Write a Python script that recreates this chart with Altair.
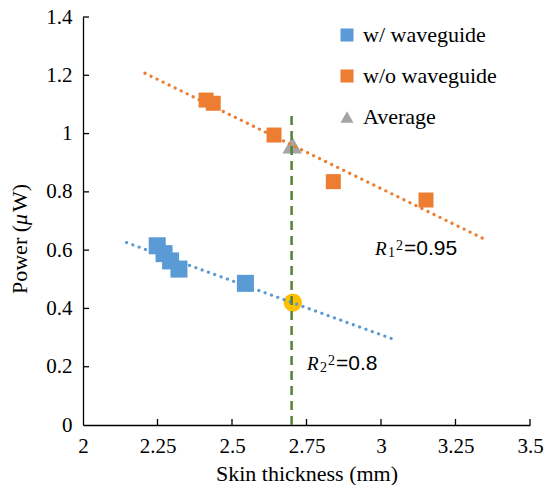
import altair as alt
import pandas as pd

# ---------------- data ----------------
series_names = ["w/ waveguide", "w/o waveguide", "Average"]
series_colors = ["#5B9BD5", "#ED7D31", "#A5A5A5"]
series_shapes = ["square", "square", "triangle-up"]

blue_x = [2.249, 2.272, 2.294, 2.322, 2.545]
blue_y = [0.615, 0.588, 0.563, 0.535, 0.486]

orange_x = [2.413, 2.437, 2.641, 2.840, 3.151]
orange_y = [1.115, 1.104, 0.995, 0.835, 0.772]

avg_x = [2.702]
avg_y = [0.961]

circle_x = [2.704]
circle_y = [0.420]

trend_orange_x = [2.208, 3.341]
trend_orange_y = [1.207, 0.641]
trend_blue_x = [2.146, 3.034]
trend_blue_y = [0.626, 0.297]

vline_x = [2.70]
vline_y0 = [0.0]
vline_y1 = [1.07]

x_ticks = [2, 2.25, 2.5, 2.75, 3, 3.25, 3.5]
y_ticks = [0, 0.2, 0.4, 0.6, 0.8, 1.0, 1.2, 1.4]

y_title_parts = ["Power (", "μ", "W)"]
r1_parts = ["R", "1", "2", "=0.95"]
r2_parts = ["R", "2", "2", "=0.8"]
r1_pos = (2.98, 0.583)
r2_pos = (2.752, 0.189)

# ---------------- layout ----------------
W, H = 447, 408
SERIF = "Liberation Serif"
SANS = "Liberation Sans"

x_scale = alt.Scale(domain=[2, 3.5], nice=False, zero=False)
y_scale = alt.Scale(domain=[0, 1.4], nice=False, zero=True)

LBL = "format(datum.value, '~g')"

x_axis = alt.Axis(values=x_ticks, labelExpr=LBL, title="Skin thickness (mm)",
                  grid=False, ticks=False, tickSize=0, domainColor="black",
                  domainWidth=1.3, labelFont=SERIF, labelFontSize=21,
                  labelColor="black", labelPadding=10, labelFlush=False,
                  titleFont=SERIF, titleFontSize=22, titleFontWeight="normal",
                  titleColor="black", titleBaseline="alphabetic", titleY=55)
y_axis = alt.Axis(values=y_ticks, labelExpr=LBL, title=None,
                  grid=False, ticks=False, tickSize=0, domainColor="black",
                  domainWidth=1.3, labelFont=SERIF, labelFontSize=21,
                  labelColor="black", labelPadding=11, labelFlush=False)


def X(field="x"):
    return alt.X(f"{field}:Q", scale=x_scale, axis=x_axis)


def Y(field="y"):
    return alt.Y(f"{field}:Q", scale=y_scale, axis=y_axis)


def legend():
    return alt.Legend(title=None, orient="none", legendX=253, legendY=7,
                      padding=0, labelFont=SERIF, labelFontSize=22,
                      labelColor="black", symbolSize=170, rowPadding=19,
                      labelOffset=5, symbolStrokeWidth=0, symbolOpacity=1)


color_enc = alt.Color("series:N",
                      scale=alt.Scale(domain=series_names, range=series_colors),
                      legend=legend())
shape_enc = alt.Shape("series:N",
                      scale=alt.Scale(domain=series_names, range=series_shapes),
                      legend=legend())

df_blue = pd.DataFrame({"x": blue_x, "y": blue_y, "series": series_names[0]})
df_orange = pd.DataFrame({"x": orange_x, "y": orange_y, "series": series_names[1]})
df_avg = pd.DataFrame({"x": avg_x, "y": avg_y, "series": series_names[2]})
df_circle = pd.DataFrame({"x": circle_x, "y": circle_y})
df_to = pd.DataFrame({"x": trend_orange_x, "y": trend_orange_y})
df_tb = pd.DataFrame({"x": trend_blue_x, "y": trend_blue_y})
df_vl = pd.DataFrame({"x": vline_x, "y": vline_y0, "y2": vline_y1})
df_xt = pd.DataFrame({"x": x_ticks[1:]})
df_yt = pd.DataFrame({"y": y_ticks[1:]})

avg_layer = alt.Chart(df_avg).mark_point(filled=True, opacity=1, size=380).encode(
    x=X(), y=Y(), color=color_enc, shape=shape_enc)
circle_layer = alt.Chart(df_circle).mark_point(
    filled=True, opacity=1, size=336, shape="circle", color="#FFC000").encode(x=X(), y=Y())

trend_o = alt.Chart(df_to).mark_line(
    color="#ED7D31", strokeWidth=3.2, strokeDash=[0.1, 6.6], strokeCap="round").encode(x=X(), y=Y())
trend_b = alt.Chart(df_tb).mark_line(
    color="#5B9BD5", strokeWidth=3.2, strokeDash=[0.1, 6.6], strokeCap="round").encode(x=X(), y=Y())

blue_layer = alt.Chart(df_blue).mark_point(filled=True, opacity=1, size=290).encode(
    x=X(), y=Y(), color=color_enc, shape=shape_enc)
orange_layer = alt.Chart(df_orange).mark_point(filled=True, opacity=1, size=225).encode(
    x=X(), y=Y(), color=color_enc, shape=shape_enc)

vline = alt.Chart(df_vl).mark_rule(color="#548235", strokeWidth=2.5, strokeDash=[9, 6]).encode(
    x=X(), y=Y(), y2="y2:Q")

xticks_layer = alt.Chart(df_xt).mark_rule(color="black", strokeWidth=1.3).encode(
    x=X(), y=alt.value(H), y2=alt.value(H - 6))
yticks_layer = alt.Chart(df_yt).mark_rule(color="black", strokeWidth=1.3).encode(
    y=Y(), x=alt.value(0), x2=alt.value(6))

# Y-axis title with italic mu, drawn rotated (reads bottom to top)
one = pd.DataFrame({"k": [0]})
TX = -63          # x of title centre line (relative to plot area)
TY0 = 277         # bottom end of title text (relative to plot area)
yt1 = alt.Chart(one).mark_text(text=y_title_parts[0], font=SERIF, fontSize=22, angle=270,
                               align="left", baseline="middle", color="black").encode(
    x=alt.value(TX), y=alt.value(TY0))
yt2 = alt.Chart(one).mark_text(text=y_title_parts[1], font=SERIF, fontStyle="italic", fontSize=22,
                               angle=270, align="left", baseline="middle", color="black").encode(
    x=alt.value(TX), y=alt.value(TY0 - 69))
yt3 = alt.Chart(one).mark_text(text=y_title_parts[2], font=SERIF, fontSize=22, angle=270,
                               align="left", baseline="middle", color="black").encode(
    x=alt.value(TX), y=alt.value(TY0 - 69 - 13))


def r_label(parts, pos):
    df = pd.DataFrame({"x": [pos[0]], "y": [pos[1]]})
    b = alt.Chart(df)
    r = b.mark_text(text=parts[0], font=SERIF, fontStyle="italic", fontSize=19,
                    align="left", baseline="alphabetic", color="black").encode(x=X(), y=Y())
    sub = b.mark_text(text=parts[1], font=SERIF, fontSize=14, dx=13, dy=2,
                      align="left", baseline="alphabetic", color="black").encode(x=X(), y=Y())
    sup = b.mark_text(text=parts[2], font=SERIF, fontSize=14, dx=21, dy=-5,
                      align="left", baseline="alphabetic", color="black").encode(x=X(), y=Y())
    rest = b.mark_text(text=parts[3], font=SANS, fontSize=21, dx=29,
                       align="left", baseline="alphabetic", color="black").encode(x=X(), y=Y())
    return [r, sub, sup, rest]


layers = [avg_layer, circle_layer, trend_o, trend_b, blue_layer, orange_layer, vline,
          xticks_layer, yticks_layer, yt1, yt2, yt3] + r_label(r1_parts, r1_pos) + r_label(r2_parts, r2_pos)

chart = alt.layer(*layers).properties(
    width=W, height=H,
    padding={"left": 83, "top": 17, "right": 14, "bottom": 60},
    autosize="none",
    background="white",
).configure(font=SERIF).configure_view(stroke=None).configure_axis(
    labelFont=SERIF, titleFont=SERIF
).configure_legend(labelFont=SERIF)

chart.save("out.html", embed_options={"renderer": "svg", "actions": False})
